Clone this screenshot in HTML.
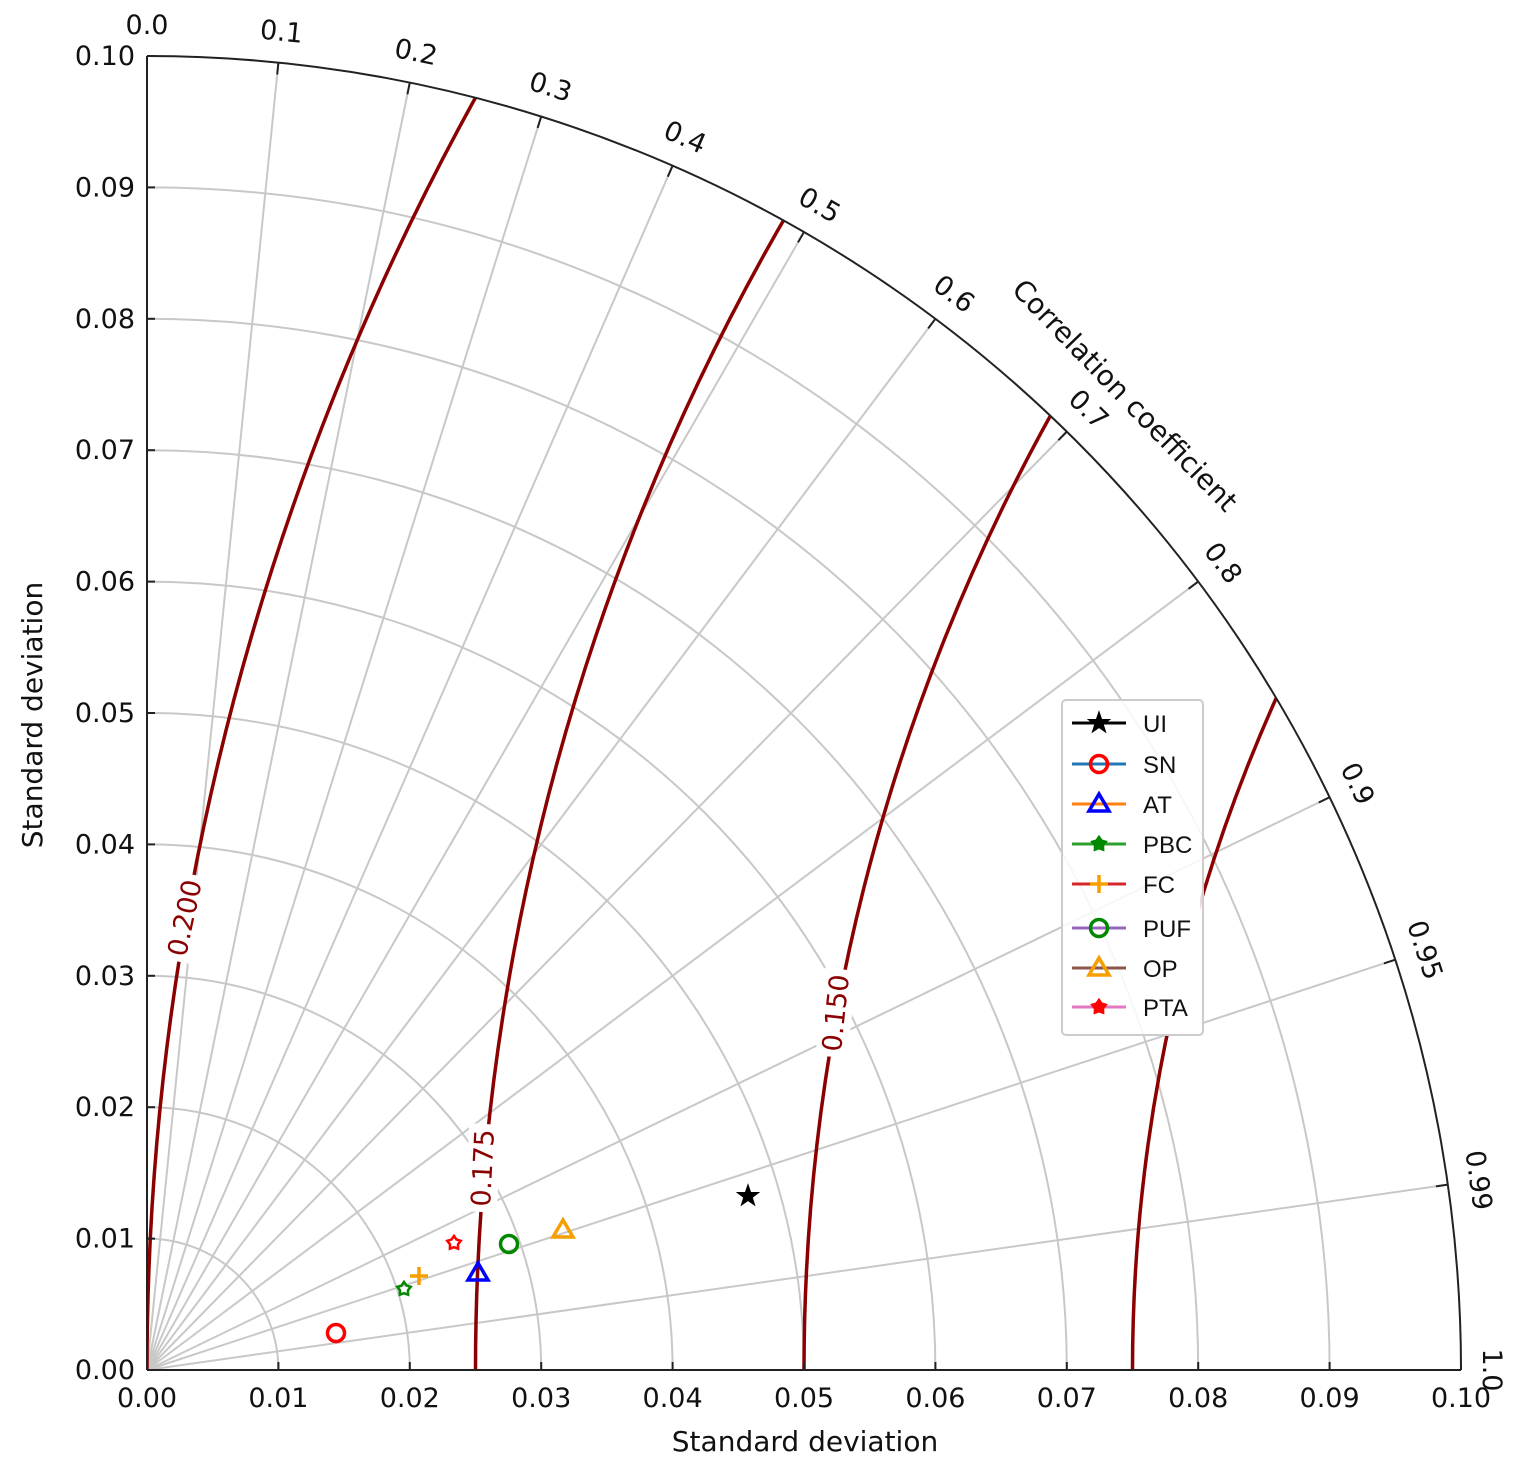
<!DOCTYPE html>
<html><head><meta charset="utf-8"><style>
html,body{margin:0;padding:0;background:#fff;width:1516px;height:1462px;overflow:hidden;}
svg{display:block;font-family:"DejaVu Sans","Liberation Sans",sans-serif;}
</style></head><body>
<svg id="s" width="1516" height="1462" viewBox="0 0 1516 1462" xmlns="http://www.w3.org/2000/svg"></svg>
<script>
const s=document.getElementById('s');
const ox=147,oy=1370,K=13140;
let h='';
const X=v=>ox+v*K, Y=v=>oy-v*K;
h+='<defs><clipPath id="q"><path d="M'+ox+','+oy+' L'+X(0.1)+','+oy+' A1314,1314 0 0 0 '+ox+','+Y(0.1)+' Z"/></clipPath></defs>';
for(let i=1;i<=9;i++){const r=i*0.01*K;
 h+=`<path d="M${ox+r},${oy} A${r},${r} 0 0 0 ${ox},${oy-r}" fill="none" stroke="#c8c8c8" stroke-width="2"/>`;}
const cors=[0.1,0.2,0.3,0.4,0.5,0.6,0.7,0.8,0.9,0.95,0.99];
cors.forEach(c=>{const t=Math.acos(c);h+=`<line x1="${ox}" y1="${oy}" x2="${ox+1314*Math.cos(t)}" y2="${oy-1314*Math.sin(t)}" stroke="#c8c8c8" stroke-width="2"/>`;});
const cx=X(0.2);
h+='<g clip-path="url(#q)">';
[0.2,0.175,0.15,0.125].forEach(r=>{const R=r*K;h+=`<circle cx="${cx}" cy="${oy}" r="${R}" fill="none" stroke="#8b0000" stroke-width="3.5"/>`;});
h+='</g>';
[[185,918,'0.200',-78],[483,1168,'0.175',-87],[836,1013,'0.150',-84]].forEach(([x,y,t,a])=>{
 h+=`<g transform="translate(${x},${y}) rotate(${a})"><rect x="-44" y="-16" width="88" height="32" fill="#fff"/><text x="0" y="9" font-size="27" fill="#8b0000" text-anchor="middle">${t}</text></g>`;});
h+=`<rect x="1150" y="895" width="50" height="140" fill="#fff"/>`;
h+=`<path d="M${X(0.1)},${oy} A1314,1314 0 0 0 ${ox},${Y(0.1)}" fill="none" stroke="#222" stroke-width="2"/>`;
h+=`<line x1="${ox}" y1="${oy}" x2="${X(0.1)}" y2="${oy}" stroke="#222" stroke-width="2"/><line x1="${ox}" y1="${oy}" x2="${ox}" y2="${Y(0.1)}" stroke="#222" stroke-width="2"/>`;
[0,0.1,0.2,0.3,0.4,0.5,0.6,0.7,0.8,0.9,0.95,0.99,1.0].forEach(c=>{const t=Math.acos(c),co=Math.cos(t),si=Math.sin(t);
 h+=`<line x1="${ox+1314*co}" y1="${oy-1314*si}" x2="${ox+1302*co}" y2="${oy-1302*si}" stroke="#222" stroke-width="2"/>`;
 const R=1334,x=ox+R*co,y=oy-R*si,a=90-t*180/Math.PI;
 const lab=(c==0?'0.0':c==1?'1.0':String(c));
 h+=`<text transform="translate(${x},${y}) rotate(${a})" font-size="27" fill="#111" text-anchor="middle" dy="-2">${lab}</text>`;});
h+=`<text transform="translate(1118,402) rotate(46)" font-size="28" fill="#111" text-anchor="middle">Correlation coefficient</text>`;
for(let i=0;i<=10;i++){const v=i/100,l=(v).toFixed(2);
 h+=`<line x1="${X(v)}" y1="${oy}" x2="${X(v)}" y2="${oy-8}" stroke="#222" stroke-width="2"/>`;
 h+=`<text x="${X(v)}" y="1407" font-size="27" fill="#111" text-anchor="middle">${l}</text>`;
 h+=`<line x1="${ox}" y1="${Y(v)}" x2="${ox+8}" y2="${Y(v)}" stroke="#222" stroke-width="2"/>`;
 h+=`<text x="135" y="${Y(v)+9}" font-size="27" fill="#111" text-anchor="end">${l}</text>`;}
h+=`<text x="805" y="1451" font-size="28" fill="#111" text-anchor="middle">Standard deviation</text>`;
h+=`<text transform="translate(42,715) rotate(-90)" font-size="28" fill="#111" text-anchor="middle">Standard deviation</text>`;
function star(x,y,r,fill,stroke,n5){let p=[];for(let i=0;i<10;i++){const rr=i%2?r*(n5?0.6:0.4):r,a=-Math.PI/2+i*Math.PI/5;p.push((x+rr*Math.cos(a)).toFixed(1)+','+(y+rr*Math.sin(a)).toFixed(1));}return `<polygon points="${p.join(' ')}" fill="${fill}" stroke="${stroke}" stroke-width="2.5"/>`;}
const circ=(x,y,c)=>`<circle cx="${x}" cy="${y}" r="8.5" fill="none" stroke="${c}" stroke-width="3.5"/>`;
const tri=(x,y,c)=>`<polygon points="${x},${y-10} ${x-10},${y+7} ${x+10},${y+7}" fill="none" stroke="${c}" stroke-width="3.5"/>`;
const plus=(x,y,c)=>`<path d="M${x-9},${y}H${x+9}M${x},${y-9}V${y+9}" stroke="${c}" stroke-width="3.5"/>`;
h+=star(748,1196,9,'#000','#000',false);
h+=circ(336,1333,'#f00');h+=tri(478,1273,'#00f');h+=star(404,1289,7,'none','#080',true);
h+=plus(419,1276,'#f5a000');h+=circ(509,1244,'#080');h+=tri(563,1230,'#f5a000');h+=star(454,1243,7,'none','#f00',true);
h+=`<rect x="1062" y="700" width="141" height="335" rx="4" fill="#fff" fill-opacity="0.85" stroke="#ccc" stroke-width="2"/>`;
const L=[['UI','#000',s=>star(1099,s,9,'#000','#000')],['SN','#1f77b4',s=>circ(1099,s,'#f00')],['AT','#ff7f0e',s=>tri(1099,s,'#00f')],
['PBC','#2ca02c',s=>star(1099,s,7,'#080','#080',true)],['FC','#d62728',s=>plus(1099,s,'#f5a000')],['PUF','#9467bd',s=>circ(1099,s,'#080')],
['OP','#8c564b',s=>tri(1099,s,'#f5a000')],['PTA','#e377c2',s=>star(1099,s,7,'#f00','#f00',true)]];
const ys=[723,764,804,844,884,928,968,1007];
L.forEach((e,i)=>{const y=ys[i];h+=`<line x1="1072" y1="${y}" x2="1126" y2="${y}" stroke="${e[1]}" stroke-width="3"/>`+e[2](y)+`<text x="1143" y="${y+9}" font-size="24" font-family="Liberation Sans" fill="#111">${e[0]}</text>`;});
s.innerHTML=h;
</script>
</body></html>
